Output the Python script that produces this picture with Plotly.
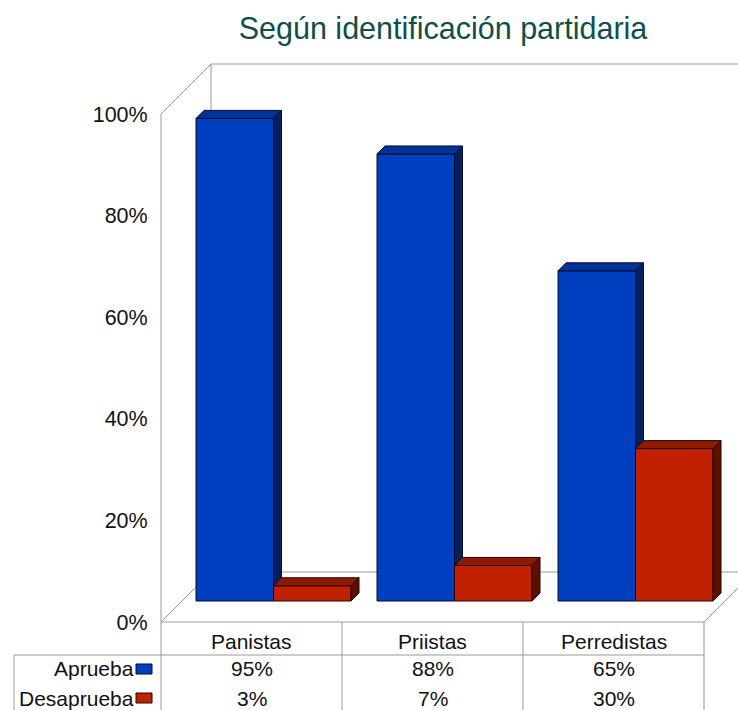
import plotly.graph_objects as go

W, H = 738, 710

categories = ['Panistas', 'Priistas', 'Perredistas']
aprueba = [95, 88, 65]
desaprueba = [3, 7, 30]
y_ticks = [0, 20, 40, 60, 80, 100]
y_labels = ['0%', '20%', '40%', '60%', '80%', '100%']

# front of the fake 3d floor in page pixels, axes run on to the page edge so nothing clips
LEFT, RIGHT, TOP, BOTTOM = 161, 704, 114, 622
PX_X = (RIGHT - LEFT) / 3
PX_Y = (BOTTOM - TOP) / 100
X_MAX = (W - LEFT) / PX_X
Y_TOP_PX = 50
Y_MAX = (BOTTOM - Y_TOP_PX) / PX_Y

# bar sits a bit inside the floor, depth is the little side face
SHIFT_X = 22
SHIFT_Y = 21
BAR_W = 77.5 / PX_X
DEPTH_X = 8 / PX_X
DEPTH_Y = 8 / PX_Y
BASE = SHIFT_Y / PX_Y

GRAY = '#999999'
FONT = 'Liberation Sans'


def px(x):
    return x / W


def py(y):
    return 1 - y / H


def line(x0, y0, x1, y1):
    return dict(type='line', xref='paper', yref='paper', layer='below',
                x0=px(x0), y0=py(y0), x1=px(x1), y1=py(y1),
                line=dict(color=GRAY, width=1))


def add_series(fig, name, values, offset, front, top, side, edge, xa, ya):
    xs = [i + 0.5 for i in range(len(values))]
    fig.add_trace(go.Bar(x=xs, y=values, base=BASE, width=BAR_W, offset=offset, name=name,
                         marker=dict(color=front, line=dict(color=edge, width=1)),
                         cliponaxis=False, xaxis=xa, yaxis=ya, showlegend=False))
    # top and side faces follow the bar heights
    for x, v in zip(xs, values):
        x0 = x + offset
        x1 = x0 + BAR_W
        y1 = BASE + v
        fig.add_trace(go.Scatter(
            x=[x0, x0 + DEPTH_X, x1 + DEPTH_X, x1, x0],
            y=[y1, y1 + DEPTH_Y, y1 + DEPTH_Y, y1, y1],
            fill='toself', fillcolor=top, mode='lines', line=dict(color=edge, width=1),
            cliponaxis=False, xaxis=xa, yaxis=ya, showlegend=False, hoverinfo='skip'))
        fig.add_trace(go.Scatter(
            x=[x1, x1 + DEPTH_X, x1 + DEPTH_X, x1, x1],
            y=[BASE, BASE + DEPTH_Y, y1 + DEPTH_Y, y1, BASE],
            fill='toself', fillcolor=side, mode='lines', line=dict(color=edge, width=1),
            cliponaxis=False, xaxis=xa, yaxis=ya, showlegend=False, hoverinfo='skip'))


fig = go.Figure()
shift = SHIFT_X / PX_X
add_series(fig, 'Aprueba', aprueba, shift - BAR_W, '#0040c0', '#003399', '#002060', '#050a28', 'x', 'y')
add_series(fig, 'Desaprueba', desaprueba, shift, '#c02200', '#8f1a00', '#5c1000', '#2a0500', 'x2', 'y2')

# walls, floor and data table lines
shapes = [
    line(LEFT, TOP, LEFT, BOTTOM),
    line(LEFT, TOP, 211, 64),
    line(211, 64, W, 64),
    line(211, 64, 211, 572),
    line(LEFT, BOTTOM, 211, 572),
    line(211, 572, W, 572),
    line(LEFT, BOTTOM, RIGHT, BOTTOM),
    line(RIGHT, BOTTOM, W, 588),
    line(14, 655, RIGHT, 655),
    line(14, 655, 14, H),
]
for i in range(4):
    shapes.append(line(LEFT + i * PX_X, BOTTOM, LEFT + i * PX_X, H))
for y0, color, edge in [(664, '#0040c0', '#050a28'), (693, '#c02200', '#2a0500')]:
    shapes.append(dict(type='rect', xref='paper', yref='paper', x0=px(136), x1=px(152),
                       y0=py(y0), y1=py(y0 + 10), fillcolor=color, line=dict(color=edge, width=1)))

annotations = []


def add_text(text, x, y, anchor='center'):
    annotations.append(dict(text=text, xref='paper', yref='paper', x=px(x), y=py(y),
                            xanchor=anchor, yanchor='middle', showarrow=False,
                            font=dict(family=FONT, size=21, color='#111111')))


for i, cat in enumerate(categories):
    cx = LEFT + (i + 0.5) * PX_X
    add_text(cat, cx, 641)
    add_text(f'{aprueba[i]}%', cx, 668)
    add_text(f'{desaprueba[i]}%', cx, 698)
add_text('Aprueba', 136, 668, 'right')
add_text('Desaprueba', 136, 698, 'right')

x_dom = [px(LEFT), 1]
y_dom = [py(BOTTOM), py(Y_TOP_PX)]
fig.update_layout(
    width=W, height=H, margin=dict(l=0, r=0, t=0, b=0, autoexpand=False),
    paper_bgcolor='white', plot_bgcolor='rgba(0,0,0,0)',
    barmode='overlay', shapes=shapes, annotations=annotations,
    title=dict(text='Según identificación partidaria', x=443 / W, y=py(28), xanchor='center',
               yanchor='middle', font=dict(family=FONT, size=30.5, color='#0f4f4a')),
    xaxis=dict(domain=x_dom, range=[0, X_MAX], visible=False),
    yaxis=dict(domain=y_dom, range=[0, Y_MAX], tickvals=y_ticks, ticktext=y_labels, showgrid=False,
               zeroline=False, showline=False, ticks='outside', ticklen=8, tickcolor='white',
               ticklabelstandoff=0, tickfont=dict(family=FONT, size=21.5, color='#111111')),
    xaxis2=dict(domain=x_dom, range=[0, X_MAX], visible=False, overlaying='x', anchor='y2'),
    yaxis2=dict(domain=y_dom, range=[0, Y_MAX], visible=False, overlaying='y', anchor='x2'),
)

# default page has a body margin, the chart has to start at the corner
fig.write_html('out.html', config={'displayModeBar': False},
               post_script="document.body.style.margin='0';document.documentElement.style.overflow='hidden';")
